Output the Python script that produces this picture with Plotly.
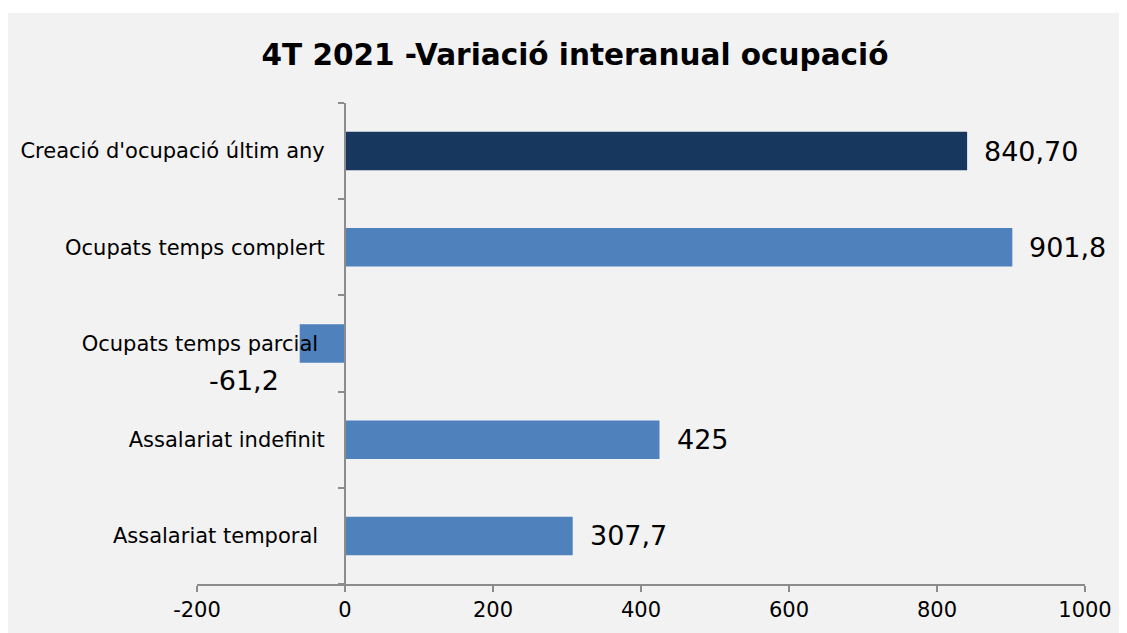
import plotly.graph_objects as go

categories = ["Creació d'ocupació últim any", "Ocupats temps complert", "Ocupats temps parcial",
              "Assalariat indefinit", "Assalariat temporal"]
values = [840.70, 901.8, -61.2, 425, 307.7]
value_labels = ["840,70", "901,8", "-61,2", "425", "307,7"]
x_ticks = [-200, 0, 200, 400, 600, 800, 1000]
x_tick_labels = ["-200", "0", "200", "400", "600", "800", "1000"]

bar_colors = ["#17375E", "#4F81BD", "#4F81BD", "#4F81BD", "#4F81BD"]
label_pad = ["", "", "\u00a0", "", "\u00a0"]
FONT = "DejaVu Sans, Verdana, sans-serif"
AXIS_GRAY = "#8C8C8C"

W, H = 1119, 625
L, R, T, B = 189, 42, 95, 49
PW, PH = W - L - R, H - T - B

fig = go.Figure(go.Bar(
    x=values, y=categories, orientation="h",
    marker=dict(color=bar_colors, line=dict(width=0)),
    hoverinfo="skip",
))

for v, c, lab in zip(values, categories, value_labels):
    if v >= 0:
        fig.add_annotation(x=v, y=c, text=lab, showarrow=False, xanchor="left",
                           xshift=15, yshift=0, font=dict(family=FONT, size=27, color="#000"))
    else:
        fig.add_annotation(x=v, y=c, text=lab, showarrow=False, xanchor="right",
                           xshift=-19, yshift=-37, font=dict(family=FONT, size=27, color="#000"))

fig.add_shape(type="rect", xref="paper", yref="paper", x0=-0.3, x1=1.3, y0=-0.3,
              y1=(PH + T - 5) / PH, fillcolor="#F2F2F2", line=dict(width=0), layer="below")

fig.update_layout(
    width=W, height=H,
    margin=dict(l=L, r=R, t=T, b=B),
    paper_bgcolor="white", plot_bgcolor="rgba(0,0,0,0)",
    showlegend=False,
    bargap=0.6,
    title=dict(text="<b>4T 2021 -Variació interanual ocupació</b>", x=567 / W,
               xref="container", xanchor="center", y=1 - 47 / H, yanchor="middle",
               font=dict(family=FONT, size=29.5, color="#000")),
    font=dict(family=FONT, size=21, color="#000"),
    xaxis=dict(range=[-200, 1000], tickvals=x_ticks, ticktext=x_tick_labels, ticks="outside",
               ticklen=6, tickcolor=AXIS_GRAY, tickwidth=2, showline=True, linecolor=AXIS_GRAY,
               linewidth=2, showgrid=False, zeroline=False,
               tickfont=dict(family=FONT, size=21, color="#000")),
    yaxis=dict(autorange="reversed", anchor="free", position=148 / PW, showline=True,
               linecolor=AXIS_GRAY, linewidth=2, ticks="outside", ticklen=6, tickwidth=2,
               tickcolor=AXIS_GRAY, tickson="boundaries", showgrid=False, zeroline=False,
               tickvals=categories, ticktext=[c + p for c, p in zip(categories, label_pad)],
               ticklabelstandoff=15, tickfont=dict(family=FONT, size=21, color="#000")),
)

fig.write_html("out.html")
